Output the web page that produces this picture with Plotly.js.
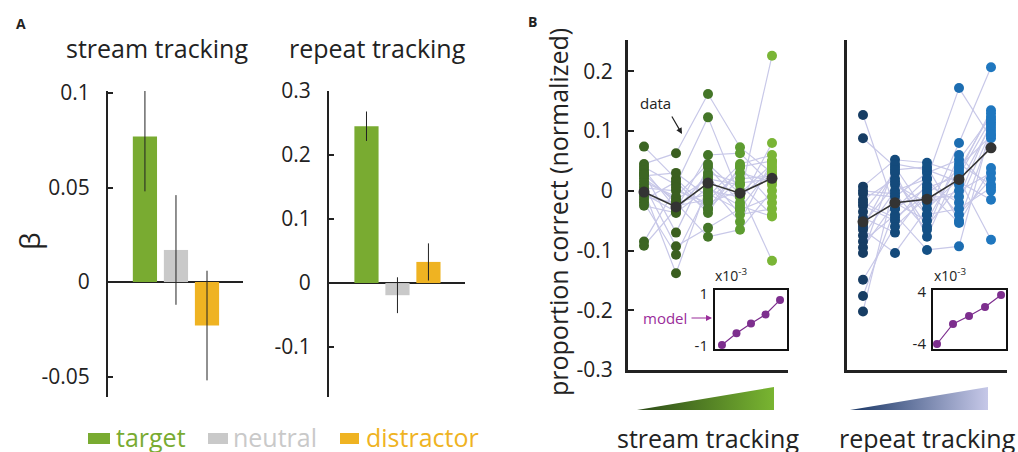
<!DOCTYPE html>
<html>
<head>
<meta charset="utf-8">
<script src="https://cdn.plot.ly/plotly-3.0.1.min.js"></script>
<style>
  html, body { margin: 0; padding: 0; background: #fff; }
  #chart { width: 1018px; height: 452px; }
</style>
</head>
<body>
<div id="chart"></div>
<script>
// ---- Panel A: regression weights (beta) per stream type ----
const categories = ['target', 'neutral', 'distractor'];
const streamBeta = [0.077, 0.017, -0.023];
const streamErr = [0.029, 0.029, 0.029];
const repeatBeta = [0.245, -0.019, 0.033];
const repeatErr = [0.023, 0.028, 0.029];
const barColors = ['#79ab31', '#c9c9c9', '#efb322'];

// ---- Panel B: normalized proportion correct per level, one value per participant ----
const levels = [1, 2, 3, 4, 5];
const streamL1 = [0.074, 0.045, 0.040, 0.035, 0.030, 0.025, 0.020, 0.010, 0.005, 0.000, -0.005, -0.010, -0.015, -0.020, -0.025, -0.085, -0.092, 0.015, -0.002, 0.028];
const streamL2 = [0.020, 0.063, 0.010, -0.030, -0.070, 0.030, -0.015, -0.093, 0.000, -0.138, -0.035, -0.020, 0.015, -0.107, -0.037, 0.005, -0.030, -0.010, -0.025, -0.020];
const streamL3 = [-0.030, 0.162, 0.123, 0.060, 0.040, -0.010, 0.020, -0.062, -0.020, 0.010, 0.030, -0.077, -0.037, 0.000, 0.005, -0.030, 0.025, 0.045, -0.015, -0.005];
const streamL4 = [0.040, 0.073, -0.010, 0.063, -0.020, 0.045, 0.010, -0.030, 0.000, -0.052, 0.013, -0.065, 0.040, -0.010, -0.025, 0.020, -0.040, -0.005, 0.030, -0.032];
const streamL5 = [0.050, 0.030, 0.226, 0.010, 0.080, 0.060, -0.040, 0.040, -0.117, 0.050, 0.020, 0.000, -0.020, 0.035, -0.043, 0.025, -0.030, 0.045, 0.015, -0.010];
const streamMean = [-0.002, -0.027, 0.013, -0.004, 0.021];

const repeatL1 = [0.127, 0.088, 0.007, -0.005, -0.015, -0.025, -0.035, -0.045, -0.055, -0.065, -0.075, -0.085, -0.095, -0.104, -0.149, -0.176, -0.202, 0.000, -0.060, -0.020];
const repeatL2 = [-0.030, 0.040, 0.052, -0.010, 0.020, -0.050, 0.030, -0.070, 0.010, -0.104, 0.000, -0.040, -0.020, 0.045, -0.060, -0.030, 0.015, -0.005, 0.035, -0.045];
const repeatL3 = [0.020, -0.040, 0.047, 0.030, -0.060, 0.010, -0.077, 0.000, -0.020, -0.030, 0.020, -0.099, -0.050, 0.035, -0.010, 0.005, -0.040, -0.065, 0.040, -0.005];
const repeatL4 = [0.172, 0.080, 0.030, 0.052, 0.010, -0.020, 0.040, -0.054, 0.000, 0.020, -0.040, -0.093, 0.045, 0.015, -0.010, 0.025, -0.030, 0.060, -0.050, 0.035];
const repeatL5 = [0.088, 0.207, 0.135, 0.124, 0.110, 0.100, 0.092, 0.038, 0.030, -0.082, 0.020, 0.105, 0.010, -0.015, 0.115, 0.120, 0.005, 0.000, 0.095, 0.130];
const repeatMean = [-0.052, -0.020, -0.014, 0.019, 0.072];

// model predictions (x10^-3)
const modelStream = [-0.96, -0.51, -0.13, 0.21, 0.77];
const modelRepeat = [-4.0, -0.92, 0.31, 1.7, 3.54];

const streamColors = ['#3c6623', '#3b5f20', '#447628', '#5d9c30', '#7ab536'];
const repeatColors = ['#173d64', '#144a7b', '#145085', '#1c6db1', '#1f77bf'];
const subjectLine = '#c8c8e8';
const ink = '#222222';
const purple = '#7d2e8e';
const FONT = '"Open Sans", "Noto Sans", sans-serif';

// ---- page geometry helpers (pixel -> paper) ----
const W = 1018, H = 452;
const dx = (a, b) => [a / W, b / W];
const dy = (top, bottom) => [1 - bottom / H, 1 - top / H];
const px = v => v / W;
const py = v => 1 - v / H;

const traces = [];

// Panel A bars
function betaBars(vals, errs, xa, ya) {
  traces.push({
    type: 'bar', x: categories, y: vals, xaxis: xa, yaxis: ya,
    width: 0.78,
    marker: { color: barColors, line: { width: 0 } },
    error_y: { type: 'data', array: errs, visible: true, color: ink, thickness: 1, width: 0 },
    hoverinfo: 'skip'
  });
}
betaBars(streamBeta, streamErr, 'x', 'y');
betaBars(repeatBeta, repeatErr, 'x2', 'y2');

// Panel B: participant lines, dots, group mean
function spaghetti(cols, means, colors, xa, ya) {
  const n = cols[0].length;
  for (let s = 0; s < n; s++) {
    traces.push({
      type: 'scatter', mode: 'lines', x: levels, y: cols.map(c => c[s]),
      xaxis: xa, yaxis: ya, line: { color: subjectLine, width: 1.2 }, hoverinfo: 'skip'
    });
  }
  cols.forEach((c, i) => {
    traces.push({
      type: 'scatter', mode: 'markers', x: c.map(() => levels[i]), y: c,
      xaxis: xa, yaxis: ya, marker: { color: colors[i], size: 10, line: { width: 0 } }, hoverinfo: 'skip'
    });
  });
  traces.push({
    type: 'scatter', mode: 'lines+markers', x: levels, y: means, xaxis: xa, yaxis: ya,
    line: { color: '#333333', width: 1.6 }, marker: { color: '#333333', size: 11 }, hoverinfo: 'skip'
  });
}
spaghetti([streamL1, streamL2, streamL3, streamL4, streamL5], streamMean, streamColors, 'x3', 'y3');
spaghetti([repeatL1, repeatL2, repeatL3, repeatL4, repeatL5], repeatMean, repeatColors, 'x4', 'y4');

// model insets
[[modelStream, 'x5', 'y5'], [modelRepeat, 'x6', 'y6']].forEach(([m, xa, ya]) => {
  traces.push({
    type: 'scatter', mode: 'lines+markers', x: levels, y: m, xaxis: xa, yaxis: ya,
    line: { color: purple, width: 1.2 }, marker: { color: purple, size: 8 }, cliponaxis: false, hoverinfo: 'skip'
  });
});

// difficulty ramps under panel B
const rampX = [0, 1, 1, 0];
const rampY = [0, 0, 1, 0];
traces.push({
  type: 'scatter', mode: 'none', x: rampX, y: rampY, xaxis: 'x7', yaxis: 'y7', fill: 'toself',
  fillgradient: { type: 'horizontal', colorscale: [[0, '#2c4a18'], [1, '#79b531']] }, hoverinfo: 'skip'
});
traces.push({
  type: 'scatter', mode: 'none', x: rampX, y: rampY, xaxis: 'x8', yaxis: 'y8', fill: 'toself',
  fillgradient: { type: 'horizontal', colorscale: [[0, '#1a3766'], [1, '#c6c8e8']] }, hoverinfo: 'skip'
});

const hidden = { visible: false, showgrid: false, zeroline: false, fixedrange: true };

function betaY(domain, range, vals, text) {
  return {
    domain: domain, range: range, showgrid: false,
    showline: true, linecolor: ink, linewidth: 2,
    ticks: 'inside', ticklen: 5, tickwidth: 2, tickcolor: ink,
    tickvals: vals, ticktext: text, ticklabelstandoff: 12,
    tickfont: { family: FONT, size: 21, color: ink },
    zeroline: true, zerolinecolor: ink, zerolinewidth: 2
  };
}
function partY(domain, labels) {
  return {
    domain: domain, range: [-0.3, 0.2525], showgrid: false, zeroline: false,
    showline: true, linecolor: ink, linewidth: 3,
    ticks: labels ? 'inside' : '', ticklen: 6, tickwidth: 2, tickcolor: ink,
    tickvals: [-0.3, -0.2, -0.1, 0, 0.1, 0.2],
    ticktext: ['-0.3', '-0.2', '-0.1', '0', '0.1', '0.2'],
    showticklabels: labels, ticklabelstandoff: 8,
    tickfont: { family: FONT, size: 21, color: ink }
  };
}
function partX(domain) {
  return {
    domain: domain, range: [0.5, 5.5], showgrid: false, zeroline: false,
    showline: true, linecolor: ink, linewidth: 3, ticks: '', showticklabels: false
  };
}
function insetX(domain, range) {
  return {
    domain: domain, range: range, showgrid: false, zeroline: false,
    showline: true, mirror: true, linecolor: '#111', linewidth: 2, ticks: '', showticklabels: false
  };
}
function insetY(domain, range, vals) {
  return {
    domain: domain, range: range, showgrid: false, zeroline: false,
    showline: true, mirror: true, linecolor: '#111', linewidth: 2, ticks: '',
    tickvals: vals, ticktext: vals.map(String), ticklabelstandoff: 2,
    tickfont: { family: FONT, size: 15, color: ink }
  };
}

const txt = (text, x, y, size, color, extra) => Object.assign({
  text: text, xref: 'paper', yref: 'paper', x: px(x), y: py(y),
  xanchor: 'center', yanchor: 'middle', showarrow: false,
  font: { family: FONT, size: size, color: color || ink }
}, extra || {});

const annotations = [
  txt('<b>A</b>', 21, 23, 14),
  txt('<b>B</b>', 532, 22, 14),
  txt('stream tracking', 157, 48, 25),
  txt('repeat tracking', 377, 48, 25),
  txt('β', 29, 241, 28, ink, { textangle: -90 }),
  txt('proportion correct (normalized)', 558, 212, 25, ink, { textangle: -90 }),
  txt('stream tracking', 708, 438, 25),
  txt('repeat tracking', 927, 438, 25),
  txt('target', 114, 437, 25, '#79ab31', { xanchor: 'left' }),
  txt('neutral', 231, 437, 25, '#c9c9c9', { xanchor: 'left' }),
  txt('distractor', 364, 437, 25, '#efb322', { xanchor: 'left' }),
  txt('data', 655, 103, 15),
  txt('model', 665, 318, 15, '#9a2c9a'),
  txt('x10<sup>-3</sup>', 731, 275, 14),
  txt('x10<sup>-3</sup>', 950, 275, 14),
  // pointer arrows
  { xref: 'paper', yref: 'paper', x: px(682), y: py(134), ax: -11, ay: -19, text: '',
    showarrow: true, arrowhead: 2, arrowsize: 1, arrowwidth: 1.2, arrowcolor: ink },
  { xref: 'paper', yref: 'paper', x: px(712), y: py(318), ax: -22, ay: 0, text: '',
    showarrow: true, arrowhead: 2, arrowsize: 1, arrowwidth: 1.2, arrowcolor: '#9a2c9a' }
];

// legend swatches
const swatch = (x0, x1, color) => ({
  type: 'rect', xref: 'paper', yref: 'paper', x0: px(x0), x1: px(x1), y0: py(444), y1: py(433),
  fillcolor: color, line: { width: 0 }
});
const shapes = [swatch(88, 110, '#79ab31'), swatch(208, 228, '#c9c9c9'), swatch(340, 359, '#efb322')];

const layout = {
  width: W, height: H, margin: { l: 0, r: 0, t: 0, b: 0 },
  paper_bgcolor: '#ffffff', plot_bgcolor: 'rgba(0,0,0,0)',
  showlegend: false, font: { family: FONT, color: ink },
  xaxis: Object.assign({}, hidden, { domain: dx(108, 243), range: [-1.19, 3.16], type: 'category', categoryarray: categories }),
  yaxis: betaY(dy(91, 397), [-0.0608, 0.1011], [-0.05, 0, 0.05, 0.1], ['-0.05', '0', '0.05', '0.1']),
  xaxis2: Object.assign({}, hidden, { domain: dx(329, 465), range: [-1.21, 3.18], type: 'category', categoryarray: categories, anchor: 'y2' }),
  yaxis2: Object.assign(betaY(dy(91, 397), [-0.178, 0.300], [-0.1, 0, 0.1, 0.2, 0.3], ['-0.1', '0', '0.1', '0.2', '0.3']), { anchor: 'x2' }),
  xaxis3: Object.assign(partX(dx(628, 788)), { anchor: 'y3' }),
  yaxis3: Object.assign(partY(dy(40, 370), true), { anchor: 'x3' }),
  xaxis4: Object.assign(partX(dx(847, 1007)), { anchor: 'y4' }),
  yaxis4: Object.assign(partY(dy(40, 370), false), { anchor: 'x4' }),
  xaxis5: Object.assign(insetX(dx(715, 787), [0.52, 5.48]), { anchor: 'y5' }),
  yaxis5: Object.assign(insetY(dy(290, 349), [-1.11, 1.15], [-1, 1]), { anchor: 'x5' }),
  xaxis6: Object.assign(insetX(dx(933, 1006), [0.75, 5.31]), { anchor: 'y6' }),
  yaxis6: Object.assign(insetY(dy(290, 349), [-4.77, 4.31], [-4, 4]), { anchor: 'x6' }),
  xaxis7: Object.assign({}, hidden, { domain: dx(637, 774), range: [0, 1], anchor: 'y7' }),
  yaxis7: Object.assign({}, hidden, { domain: dy(387, 410), range: [0, 1], anchor: 'x7' }),
  xaxis8: Object.assign({}, hidden, { domain: dx(850, 988), range: [0, 1], anchor: 'y8' }),
  yaxis8: Object.assign({}, hidden, { domain: dy(387, 410), range: [0, 1], anchor: 'x8' }),
  annotations: annotations,
  shapes: shapes
};

Plotly.newPlot('chart', traces, layout, { staticPlot: true, displayModeBar: false });
</script>
</body>
</html>
